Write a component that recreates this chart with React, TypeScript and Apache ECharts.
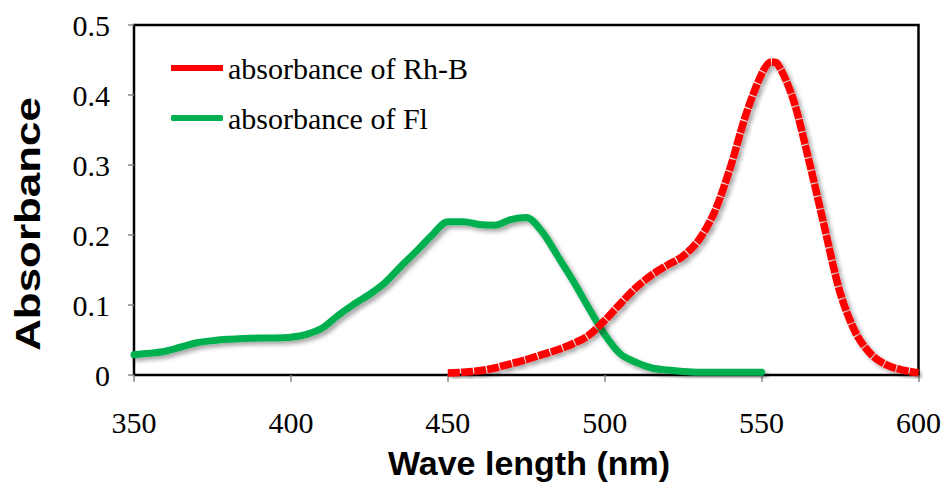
import React, { useEffect, useRef } from "react";
import * as echarts from "echarts";

const seriesNames = ["absorbance of Rh-B", "absorbance of Fl"];

const rhbWavelengths = [450, 455, 460, 465, 470, 475, 480, 485, 490, 495, 500, 505, 510, 515, 520, 525, 530, 535, 540, 545, 550, 553, 555, 560, 565, 570, 575, 580, 585, 590, 595, 600];
const rhbAbsorbance = [0.003, 0.004, 0.006, 0.010, 0.016, 0.022, 0.029, 0.036, 0.045, 0.057, 0.078, 0.102, 0.125, 0.143, 0.157, 0.170, 0.193, 0.233, 0.296, 0.372, 0.430, 0.447, 0.445, 0.395, 0.308, 0.212, 0.118, 0.060, 0.029, 0.014, 0.007, 0.003];

const flWavelengths = [350, 355, 360, 365, 370, 375, 380, 385, 390, 395, 400, 405, 410, 415, 420, 425, 430, 435, 440, 445, 450, 455, 460, 465, 470, 475, 480, 485, 490, 495, 500, 505, 510, 515, 520, 525, 530, 535, 540, 545, 550];
const flAbsorbance = [0.029, 0.031, 0.034, 0.040, 0.046, 0.049, 0.051, 0.052, 0.053, 0.053, 0.054, 0.058, 0.067, 0.085, 0.101, 0.115, 0.132, 0.155, 0.177, 0.200, 0.219, 0.219, 0.215, 0.214, 0.222, 0.225, 0.205, 0.170, 0.134, 0.095, 0.058, 0.030, 0.018, 0.010, 0.007, 0.005, 0.004, 0.004, 0.004, 0.004, 0.004];

const xAxisTitle = "Wave length (nm)";
const yAxisTitle = "Absorbance";

const SERIF = "'Liberation Serif', 'Times New Roman', serif";
const SANS = "'Liberation Sans', Arial, sans-serif";

function pairs(xs: number[], ys: number[]) {
  return xs.map((x, i) => [x, ys[i]]);
}

export default function App() {
  const ref = useRef<HTMLDivElement>(null);
  useEffect(() => {
    if (!ref.current) return;
    const chart = echarts.init(ref.current, null, { renderer: "svg" });
    const shadow = {
      shadowColor: "rgba(0,0,0,0.35)",
      shadowBlur: 4,
      shadowOffsetX: 3,
      shadowOffsetY: 3,
    };
    chart.setOption({
      animation: false,
      backgroundColor: "#ffffff",
      grid: {
        left: 126,
        right: 17,
        top: 17,
        bottom: 108,
        show: true,
        borderColor: "#000",
        borderWidth: 2.5,
        backgroundColor: "transparent",
      },
      legend: {
        orient: "vertical",
        left: 158,
        top: 40,
        itemWidth: 52,
        itemHeight: 6,
        itemGap: 20,
        data: [
          { name: seriesNames[0], icon: "rect", itemStyle: { color: "#ff0000" } },
          { name: seriesNames[1], icon: "roundRect", itemStyle: { color: "#00b050" } },
        ],
        textStyle: { fontFamily: SERIF, fontSize: 30, color: "#000" },
      },
      xAxis: {
        type: "value",
        min: 350,
        max: 600,
        interval: 50,
        splitLine: { show: false },
        axisLine: { show: true, onZero: false, lineStyle: { color: "#000", width: 2 } },
        axisTick: { show: true, inside: false, length: 7, lineStyle: { color: "#888", width: 1.5 } },
        axisLabel: { fontFamily: SERIF, fontSize: 30, color: "#000", margin: 32 },
      },
      yAxis: {
        type: "value",
        min: 0,
        max: 0.5,
        interval: 0.1,
        splitLine: { show: false },
        axisLine: { show: true, lineStyle: { color: "#000", width: 2 } },
        axisTick: { show: true, inside: false, length: 6, lineStyle: { color: "#888", width: 1.5 } },
        axisLabel: { fontFamily: SERIF, fontSize: 30, color: "#000", margin: 24 },
      },
      graphic: [
        {
          type: "text",
          x: 521,
          y: 438,
          style: {
            text: xAxisTitle,
            font: `bold 34px ${SANS}`,
            fill: "#000",
            textAlign: "center",
            textVerticalAlign: "top",
          },
        },
        {
          type: "text",
          x: 20,
          y: 216,
          rotation: Math.PI / 2,
          scaleX: 1.22,
          style: {
            text: yAxisTitle,
            font: `bold 36px ${SANS}`,
            fill: "#000",
            textAlign: "center",
            textVerticalAlign: "middle",
          },
        },
      ],
      series: [
        {
          name: seriesNames[0],
          type: "line",
          data: pairs(rhbWavelengths, rhbAbsorbance),
          showSymbol: false,
          symbol: "none",
          smooth: 0.3,
          z: 3,
          lineStyle: { color: "#ff0000", width: 7.5, type: [12, 1.2], cap: "butt", ...shadow },
          itemStyle: { color: "#ff0000" },
        },
        {
          name: seriesNames[1],
          type: "line",
          data: pairs(flWavelengths, flAbsorbance),
          showSymbol: false,
          symbol: "none",
          smooth: 0.3,
          z: 2,
          lineStyle: { color: "#00b050", width: 7, cap: "round", join: "round", ...shadow },
          itemStyle: { color: "#00b050" },
        },
      ],
    });
    return () => chart.dispose();
  }, []);
  return <div ref={ref} style={{ width: 936, height: 475 }} />;
}
